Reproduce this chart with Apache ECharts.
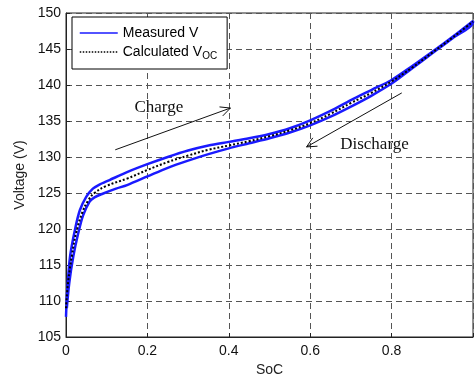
<!DOCTYPE html>
<html>
<head>
<meta charset="utf-8">
<script src="https://cdn.jsdelivr.net/npm/echarts@6/dist/echarts.min.js"></script>
<style>
html, body { margin: 0; padding: 0; background: #fff; }
#main { width: 476px; height: 383px; }
</style>
</head>
<body>
<div id="main"></div>
<script>
// charge branch (upper blue curve)
var chargeSoc = [0, 0.003, 0.01, 0.022, 0.034, 0.05, 0.066, 0.08, 0.107, 0.15, 0.2, 0.25, 0.3, 0.35, 0.4, 0.45, 0.5, 0.55, 0.6, 0.65, 0.7, 0.75, 0.8, 0.85, 0.9, 0.95, 1.0];
var chargeV = [107.8, 111.5, 116.2, 119.9, 122.6, 124.5, 125.6, 126.1, 126.8, 127.9, 129.0, 130.0, 130.9, 131.6, 132.1, 132.6, 133.2, 134.0, 135.1, 136.4, 137.9, 139.3, 140.7, 142.6, 144.6, 146.7, 148.9];
// discharge branch (lower blue curve), going back down
var dischargeSoc = [1.0, 0.95, 0.9, 0.85, 0.8, 0.75, 0.7, 0.65, 0.6, 0.55, 0.5, 0.45, 0.4, 0.35, 0.3, 0.25, 0.2, 0.15, 0.123, 0.09, 0.07, 0.058, 0.042, 0.03, 0.018, 0.008, 0.002];
var dischargeV = [148.7, 146.5, 144.4, 142.3, 140.2, 138.5, 137.0, 135.6, 134.4, 133.4, 132.6, 131.9, 131.2, 130.4, 129.5, 128.5, 127.3, 126.1, 125.6, 124.9, 124.4, 123.8, 121.9, 119.4, 116.2, 112.5, 109.0];
// calculated open circuit voltage
var vocSoc = [0, 0.005, 0.015, 0.025, 0.04, 0.055, 0.07, 0.1, 0.15, 0.2, 0.25, 0.3, 0.35, 0.4, 0.45, 0.5, 0.55, 0.6, 0.65, 0.7, 0.75, 0.8, 0.85, 0.9, 0.95, 1.0];
var vocV = [109.0, 112.5, 116.5, 119.5, 122.3, 124.0, 125.0, 126.0, 127.0, 128.2, 129.3, 130.2, 131.0, 131.6, 132.2, 132.9, 133.7, 134.7, 136.0, 137.5, 138.9, 140.5, 142.4, 144.5, 146.6, 148.8];

var xTicks = [0, 0.2, 0.4, 0.6, 0.8];
var yTicks = [105, 110, 115, 120, 125, 130, 135, 140, 145, 150];

// annotations, in data coords
var chargeArrow = [[0.121, 131.0], [0.404, 136.8]];
var chargeLabel = [0.228, 136.9];
var dischargeArrow = [[0.825, 138.9], [0.591, 131.4]];
var dischargeLabel = [0.758, 131.8];

function pairs(xs, ys) {
    var out = [];
    for (var i = 0; i < xs.length; i++) out.push([xs[i], ys[i]]);
    return out;
}

var measured = pairs(chargeSoc, chargeV).concat(pairs(dischargeSoc, dischargeV));
var voc = pairs(vocSoc, vocV);

var myChart = echarts.init(document.getElementById('main'));

var dash = { color: '#555', type: [6, 4], width: 1 };

var option = {
    animation: false,
    backgroundColor: '#fff',
    textStyle: { fontFamily: 'Liberation Sans, Arial, sans-serif' },
    grid: { left: 66, top: 13, right: -3, bottom: 46, show: true, borderColor: '#222', borderWidth: 1 },
    legend: {
        left: 72, top: 17, width: 140,
        orient: 'vertical',
        padding: [9, 10, 8, 7],
        itemGap: 5,
        itemWidth: 38, itemHeight: 14,
        backgroundColor: '#fff',
        borderColor: '#000', borderWidth: 1, borderRadius: 0,
        itemStyle: { opacity: 0 },
        lineStyle: { width: 1.5 },
        textStyle: {
            color: '#000', fontSize: 14,
            rich: { sub: { fontSize: 10, verticalAlign: 'bottom', padding: [8, 0, 0, 0], color: '#000' } }
        },
        formatter: function (name) {
            return name === 'Calculated VOC' ? 'Calculated V{sub|OC}' : name;
        },
        data: ['Measured V', 'Calculated VOC']
    },
    xAxis: {
        type: 'value', min: 0, max: 1, interval: 0.2,
        name: 'SoC', nameLocation: 'middle', nameGap: 25,
        nameTextStyle: { fontSize: 14, color: '#222' },
        axisLine: { lineStyle: { color: '#222' } },
        axisTick: { inside: true, length: 4, lineStyle: { color: '#222' } },
        axisLabel: {
            color: '#111', fontSize: 14, margin: 7,
            formatter: function (v) { return xTicks.indexOf(v) >= 0 ? String(v) : ''; }
        },
        splitLine: { show: true, lineStyle: dash }
    },
    yAxis: {
        type: 'value', min: 105, max: 150, interval: 5,
        name: 'Voltage (V)', nameLocation: 'middle', nameGap: 38,
        nameTextStyle: { fontSize: 14, color: '#222' },
        axisLine: { show: true, lineStyle: { color: '#222' } },
        axisTick: { show: true, inside: true, length: 4, lineStyle: { color: '#222' } },
        axisLabel: {
            color: '#111', fontSize: 14, margin: 5,
            formatter: function (v) { return yTicks.indexOf(v) >= 0 ? String(v) : ''; }
        },
        splitLine: { show: true, lineStyle: dash }
    },
    series: [{
        name: 'Measured V',
        type: 'line',
        data: measured,
        symbol: 'none',
        smooth: 0.3,
        color: '#1a1aff',
        lineStyle: { color: '#1a1aff', width: 2.5 }
    }, {
        name: 'Calculated VOC',
        type: 'line',
        data: voc,
        symbol: 'none',
        smooth: 0.4,
        color: '#000',
        lineStyle: { color: '#000', width: 2, type: 'dotted' }
    }]
};

myChart.setOption(option);

// 箭头和文字标注
function arrow(seg) {
    var a = myChart.convertToPixel('grid', seg[0]);
    var b = myChart.convertToPixel('grid', seg[1]);
    var ang = Math.atan2(b[1] - a[1], b[0] - a[0]);
    var L = 11, w = 0.45;
    var p1 = [b[0] - L * Math.cos(ang - w), b[1] - L * Math.sin(ang - w)];
    var p2 = [b[0] - L * Math.cos(ang + w), b[1] - L * Math.sin(ang + w)];
    var st = { stroke: '#111', lineWidth: 1 };
    return [
        { type: 'line', shape: { x1: a[0], y1: a[1], x2: b[0], y2: b[1] }, style: st, z: 100 },
        { type: 'polyline', shape: { points: [p1, b, p2] }, style: { stroke: '#111', lineWidth: 1, fill: null }, z: 100 }
    ];
}
function label(txt, pos) {
    var p = myChart.convertToPixel('grid', pos);
    return {
        type: 'text', x: p[0], y: p[1], z: 100,
        style: { text: txt, fill: '#111', font: '17px "Liberation Serif", "Times New Roman", serif', align: 'center', verticalAlign: 'middle' }
    };
}

var els = arrow(chargeArrow).concat(arrow(dischargeArrow));
els.push(label('Charge', chargeLabel));
els.push(label('Discharge', dischargeLabel));
myChart.setOption({ graphic: { elements: els } });
</script>
</body>
</html>
